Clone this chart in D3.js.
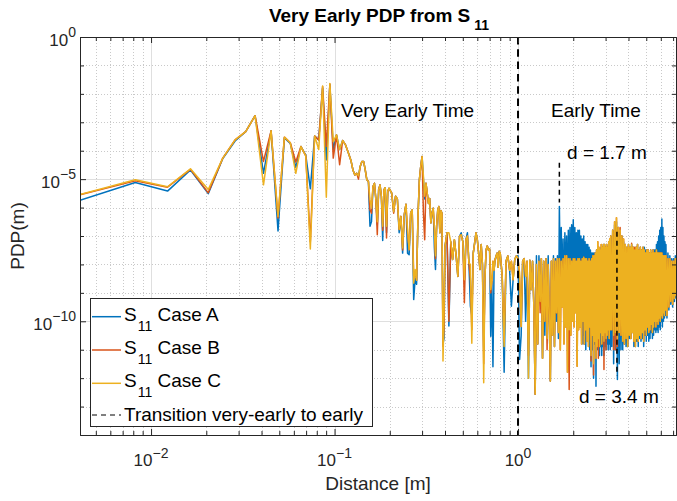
<!DOCTYPE html>
<html>
<head>
<meta charset="utf-8">
<script src="https://cdn.jsdelivr.net/npm/d3@7"></script>
<style>
  body { margin: 0; background: #fff; }
  svg { display: block; font-family: "Liberation Sans", Arial, Helvetica, sans-serif; }
</style>
</head>
<body>
<div class="graph--pdp"></div>
<script>
var distance = [
  0.0041,0.0082,0.0123,0.0164,0.0205,0.0246,0.0287,0.0328,0.0369,0.0410,0.0451,0.0492,0.0533,0.0574,0.0615,0.0656,0.0697,0.0738,0.0779,0.0820,0.0861,0.0902,0.0943,0.0984,0.1025,0.1066,0.1107,0.1148,0.1189,
  0.123,0.126,0.129,0.132,0.135,0.138,0.141,0.144,0.147,0.150,0.153,0.156,0.159,0.162,0.165,0.168,0.171,0.174,0.177,0.180,0.183,0.186,0.189,0.192,0.195,0.198,
  0.200,0.205,0.210,0.215,0.220,0.225,0.230,0.235,0.240,0.245,0.250,0.255,0.260,0.265,0.270,0.275,0.280,0.285,0.290,0.295,0.300,0.305,0.310,0.315,0.320,0.325,0.330,0.335,0.340,0.345,0.350,0.355,0.360,0.365,0.370,0.375,0.380,0.385,0.390,0.395,
  0.40,0.41,0.42,0.43,0.44,0.45,0.46,0.47,0.48,0.49,0.50,0.51,0.52,0.53,0.54,0.55,0.56,0.57,0.58,0.59,0.60,0.61,0.62,0.63,0.64,0.65,0.66,0.67,0.68,0.69,0.70,0.71,0.72,0.73,0.74,0.75,0.76,0.77,0.78,0.79,
  0.80,0.82,0.84,0.86,0.88,0.90,0.92,0.94,0.96,0.98,1.00,1.02,1.04,1.06,1.08,1.10,1.12,1.14,1.16,1.18,1.20,1.22,1.24,1.26,1.28,1.30,1.32,1.34,1.36,1.38,1.40,1.42,1.44,1.46,1.48,1.50,1.52,1.54,1.56,1.58,
  1.60,1.62,1.64,1.66,1.68,1.70,1.72,1.74,1.76,1.78,1.80,1.82,1.84,1.86,1.88,1.90,1.92,1.94,1.96,1.98,
  2.00,2.02,2.04,2.06,2.08,2.10,2.12,2.14,2.16,2.18,2.20,2.22,2.24,2.26,2.28,2.30,2.32,2.34,2.36,2.38,
  2.40,2.42,2.44,2.46,2.48,2.50,2.52,2.54,2.56,2.58,2.60,2.62,2.64,2.66,2.68,2.70,2.72,2.74,2.76,2.78,
  2.80,2.82,2.84,2.86,2.88,2.90,2.92,2.94,2.96,2.98,3.00,3.02,3.04,3.06,3.08,3.10,3.12,3.14,3.16,3.18,
  3.20,3.24,3.28,3.32,3.36,3.40,3.44,3.48,3.52,3.56,3.60,3.64,3.68,3.72,3.76,3.80,3.84,3.88,3.92,3.96,
  4.00,4.04,4.08,4.12,4.16,4.20,4.24,4.28,4.32,4.36,4.40,4.44,4.48,4.52,4.56,4.60,4.64,4.68,4.72,4.76,
  4.80,4.84,4.88,4.92,4.96,5.00,5.04,5.08,5.12,5.16,5.20,5.24,5.28,5.32,5.36,5.40,5.44,5.48,5.52,5.56,
  5.60,5.64,5.68,5.72,5.76,5.80,5.84,5.88,5.92,5.96,6.00,6.04,6.08,6.12,6.16,6.20,6.24,6.28,6.32,6.36,
  6.40,6.48,6.56,6.64,6.72,6.80,6.88,6.96,7.04,7.12,7.20,7.26
];

// PDP (m) for S11 Case A
var caseA = [
  1.8e-6,7.6e-6,3.8e-6,2.1e-5,3.1e-6,5.3e-5,2.2e-4,4.7e-4,1.7e-3,1.6e-5,5e-4,1.5e-7,2.8e-4,1.8e-4,2.6e-5,1.4e-4,7e-5,4.6e-6,3.3e-4,2.4e-4,1.6e-2,4.8e-5,2.1e-2,1.1e-4,3.6e-4,1.1e-4,2.3e-4,1.6e-4,8.5e-5,
  4.4e-5,2.1e-5,1.4e-5,1.6e-5,1.3e-5,2.8e-5,4.2e-5,4.2e-5,2.1e-5,9.5e-6,8.3e-6,2.2e-7,3.2e-7,5.5e-6,7.2e-6,1.9e-6,2.5e-7,4.3e-6,6.3e-6,2.5e-6,7e-8,4.3e-6,5e-6,1.3e-7,3.7e-6,4.8e-6,
  4.3e-6,3.2e-6,7.2e-7,2.5e-6,2e-6,1.3e-7,4.9e-7,2.5e-8,5.6e-7,1.3e-6,2.5e-8,2.2e-8,6.5e-7,8.3e-7,5.8e-10,3.2e-9,2e-9,4.9e-7,9.5e-6,2.8e-5,6.3e-5,1e-5,2e-6,7.2e-6,3.2e-6,1.4e-6,2.1e-6,2.9e-7,6.5e-7,9.5e-7,4e-8,6.6e-9,2.2e-7,7.9e-7,1.1e-6,1.3e-7,7.9e-7,6.3e-7,1.6e-11,2.5e-11,
  4.3e-8,1.3e-7,6.8e-11,6.3e-8,1.5e-8,7.4e-8,2e-8,3.8e-9,9.8e-8,1.3e-7,6.3e-8,2.9e-9,7.4e-8,1.3e-7,1.1e-8,3.4e-10,1.6e-10,2.5e-8,5.6e-8,1.3e-7,7.4e-8,2.5e-8,6.6e-9,5e-8,1e-8,1e-11,3.2e-9,3.3e-8,4.5e-8,3.2e-8,3.5e-8,3e-11,2.5e-9,2.5e-12,6.3e-9,1.5e-8,2e-8,2.5e-8,7.9e-9,2.9e-8,
  2.5e-8,3.8e-9,1.6e-12,1.3e-8,2e-8,6.3e-9,3.4e-10,2.9e-9,1.5e-8,2e-8,2e-8,4.5e-12,3.2e-11,1.3e-8,1.6e-8,1e-10,1.3e-8,1e-12,1.4e-8,1.3e-9,1.3e-8,3.2e-10,2.7e-13,2e-8,1.6e-11,2e-8,5e-10,1.6e-8,5e-12,1.3e-8,3.2e-11,1.6e-8,2.5e-11,2e-8,1.6e-10,7.9e-13,1.3e-8,3.2e-11,2e-8,1.3e-11,
  1.6e-8,1e-10,2e-8,2.5e-11,1.1e-6,3.2e-9,2e-7,1e-9,7.9e-8,6.3e-11,1.3e-7,1e-9,1e-7,1e-10,1.6e-7,3.2e-10,2e-7,1.6e-10,2.5e-7,1e-9,
  3.7e-7,3.2e-10,2e-7,6.3e-10,1.3e-7,1e-11,1.6e-7,3.2e-10,1.6e-7,1e-9,1e-7,1e-10,7.9e-8,1.6e-11,1e-7,3.2e-11,6.3e-8,1e-11,5e-8,6.3e-11,
  5e-8,3.2e-11,4e-8,1e-11,3.2e-8,2.5e-12,2.5e-8,1e-11,2.5e-8,1e-12,2.5e-8,1.6e-11,2.5e-8,5.2e-13,3.2e-8,1e-11,3.2e-8,1e-11,2.5e-8,6.3e-12,
  2.5e-8,1.3e-11,4e-8,6.3e-12,4e-8,1.3e-11,5e-8,6.3e-12,5e-8,1.3e-11,4e-8,1e-11,5e-8,1.6e-11,4e-8,1e-11,5e-8,1.6e-11,6.3e-8,1e-11,
  1e-7,1.3e-11,1.6e-7,3.2e-12,2.5e-7,1e-11,3.2e-7,8.9e-13,2e-7,3.2e-12,1.3e-7,1e-11,1e-7,1e-11,6.3e-8,1.6e-11,5e-8,1.3e-11,4e-8,1.3e-11,
  5e-8,2.5e-11,4e-8,2.5e-11,5e-8,4e-11,4e-8,1.3e-11,3.2e-8,1.3e-11,4e-8,2e-11,5e-8,1.3e-11,3.2e-8,2.5e-11,4e-8,2e-11,3.2e-8,2.5e-11,
  4e-8,1.3e-11,4e-8,3.2e-11,3.2e-8,2e-11,3.2e-8,3.2e-11,3.2e-8,2e-11,2.5e-8,2.5e-11,3.2e-8,4e-11,2.5e-8,2.5e-11,3.2e-8,3.2e-11,3.2e-8,5e-11,
  3.2e-8,4e-11,5e-8,5e-11,6.3e-8,4e-11,1e-7,6.3e-11,1.6e-7,5e-11,2e-7,1e-10,4e-7,6.3e-11,2e-7,1e-10,1e-7,1.3e-10,6.3e-8,1.6e-10,
  5e-8,1.3e-10,2.5e-8,2.5e-10,2e-8,4e-10,1.6e-8,3.2e-10,1.6e-8,5e-10,2e-8,6.3e-10
];

// PDP (m) for S11 Case B
var caseB = [
  2.8e-6,8.7e-6,5.2e-6,2.2e-5,3.3e-6,5.5e-5,2.4e-4,4.7e-4,1.7e-3,4.2e-5,5e-4,4.3e-7,3e-4,1.9e-4,4e-5,1.4e-4,6.6e-5,6.3e-8,3.3e-4,2.4e-4,1.8e-2,1.4e-4,2.2e-2,5.5e-5,3.6e-4,3.2e-5,2.3e-4,1.6e-4,8.5e-5,
  4.4e-5,2.1e-5,1.4e-5,1.6e-5,1e-5,2.8e-5,4.2e-5,4.2e-5,2.1e-5,9.5e-6,8.3e-6,8.3e-7,6.3e-7,5.5e-6,7.2e-6,1.9e-6,1.1e-7,4.3e-6,6.3e-6,2.5e-6,1.6e-7,4.3e-6,5e-6,8.5e-8,3.7e-6,4.8e-6,
  4.3e-6,3.2e-6,6.3e-7,2.5e-6,2e-6,1.7e-7,4.9e-7,3.2e-8,5.6e-7,1.3e-6,1.3e-7,3.3e-8,6.5e-7,8.3e-7,4e-9,5e-9,2.8e-9,4.9e-7,9.5e-6,2.8e-5,6.3e-5,6.5e-7,7.4e-8,7.2e-6,3.2e-6,1.4e-6,2.1e-6,2.9e-7,6.5e-7,9.5e-7,1.9e-7,1.6e-8,2.2e-7,7.9e-7,1.1e-6,1.3e-7,7.9e-7,6.3e-7,1.3e-11,6.3e-11,
  4.3e-8,1.3e-7,1e-10,6.3e-8,1.5e-8,7.4e-8,2e-8,3.8e-9,9.8e-8,1.1e-7,6.3e-8,4.5e-10,7.4e-8,1e-7,1.1e-8,3.2e-9,5e-11,2.5e-8,5.6e-8,1.3e-7,7.4e-8,2.5e-8,6.6e-9,5e-8,1e-8,3.2e-12,3.2e-9,3.3e-8,4.5e-8,3.2e-8,3.5e-8,1e-9,2.5e-9,1.3e-8,6.3e-9,1.5e-8,2e-8,2.5e-8,7.9e-9,2.9e-8,
  2.5e-8,3.8e-9,2e-11,1.3e-8,2e-8,6.3e-9,1.3e-8,2.9e-9,1.5e-8,2e-8,1.6e-8,3.2e-9,6.6e-11,1.3e-8,1.6e-8,3.8e-9,1.3e-8,6.3e-12,1.4e-8,1.3e-9,1.3e-8,3.2e-10,2.7e-13,1e-8,1.6e-11,1.3e-8,2e-10,1.6e-8,5e-12,1.3e-8,1e-10,1.6e-8,1e-11,1e-8,1.6e-10,7.9e-13,1.3e-8,3.2e-11,1.6e-8,1.3e-11,
  1.3e-8,2e-10,1.6e-8,4e-11,1.6e-8,1e-11,1.3e-8,3.2e-10,1.6e-8,1.6e-11,2e-8,6.3e-11,2e-8,1.6e-12,1.6e-8,4e-13,1.6e-8,3.2e-11,1.3e-8,1e-10,
  1.6e-8,6.3e-11,1.6e-8,2e-10,1.3e-8,2.6e-12,1.6e-8,5e-11,1.6e-8,6.3e-11,1.3e-8,1.6e-11,1.6e-8,1e-10,1.8e-8,1.6e-11,1.6e-8,5e-11,1.6e-8,2e-11,
  1.3e-8,1.3e-11,1.6e-8,6.3e-11,1.3e-8,4e-12,1.6e-8,3.2e-11,2e-8,1.3e-12,2e-8,2e-11,2.5e-8,5e-12,3.2e-8,1.3e-11,6.3e-8,5e-12,4e-8,1.3e-11,
  3.2e-8,4e-11,5e-8,1.6e-11,4e-8,3.2e-11,5e-8,2e-12,5e-8,4e-11,4e-8,1e-11,5e-8,3.2e-11,4e-8,5e-11,6.3e-8,2.5e-11,7.9e-8,5e-11,
  1e-7,5e-11,1.6e-7,1e-11,3.2e-7,1e-11,4.4e-7,1.3e-11,2e-7,4e-11,2e-7,3.2e-11,1e-7,2e-11,7.9e-8,1.6e-11,5e-8,2.5e-11,4e-8,1.3e-11,
  5e-8,3.2e-11,4e-8,2.5e-11,5.6e-8,4e-11,4e-8,2e-11,4e-8,1.3e-11,4e-8,2.5e-11,5e-8,2e-11,3.2e-8,3.2e-11,4e-8,2.5e-11,3.2e-8,4e-11,
  4e-8,2e-11,3.2e-8,5e-11,2.5e-8,3.2e-11,3.2e-8,6.3e-11,3.2e-8,4e-11,2.5e-8,5e-11,3.2e-8,7.9e-11,2.5e-8,4e-11,3.2e-8,6.3e-11,2.5e-8,1e-10,
  2.5e-8,6.3e-11,3.2e-8,1e-10,2.5e-8,7.9e-11,2.5e-8,1.3e-10,2.5e-8,1e-10,2.5e-8,1.6e-10,2.5e-8,1.3e-10,2e-8,2e-10,2e-8,1.6e-10,2e-8,2.5e-10,
  2e-8,1.6e-10,1.6e-8,3.2e-10,1.6e-8,5e-10,1.3e-8,4e-10,1.3e-8,6.3e-10,1.6e-8,7.9e-10
];

// PDP (m) for S11 Case C
var caseC = [
  2.9e-6,9.5e-6,5.4e-6,2.3e-5,4.3e-6,5.5e-5,2.4e-4,4.7e-4,1.7e-3,6.3e-6,5e-4,4.9e-7,3e-4,1.9e-4,1.6e-5,1.4e-4,6.6e-5,3.5e-8,3.3e-4,1.1e-4,1.9e-2,2.3e-6,2.3e-2,2.1e-4,3.6e-4,1.1e-4,2.3e-4,1.6e-4,8.5e-5,
  4.4e-5,2.1e-5,1.4e-5,1.6e-5,1.3e-5,2.8e-5,4.2e-5,4.2e-5,2.1e-5,9.5e-6,8.3e-6,1.9e-6,9.5e-7,5.5e-6,7.2e-6,1.9e-6,3.2e-7,4.3e-6,6.3e-6,2.5e-6,2.2e-7,4.3e-6,5e-6,2.2e-7,3.7e-6,4.8e-6,
  4.3e-6,3.2e-6,7.2e-7,2.5e-6,2e-6,1.7e-7,4.9e-7,3.8e-8,5.6e-7,1.3e-6,1.7e-7,3.3e-8,6.5e-7,8.3e-7,2.2e-9,6.6e-9,2.8e-9,4.9e-7,9.5e-6,2.8e-5,6.3e-5,1.3e-5,2.5e-6,7.2e-6,3.2e-6,1.4e-6,2.1e-6,2.9e-7,6.5e-7,9.5e-7,1.9e-7,2e-8,2.2e-7,7.9e-7,1.1e-6,1.3e-7,7.9e-7,6.3e-7,4e-12,2e-10,
  4.3e-8,1.3e-7,1.3e-7,6.3e-8,1.5e-8,7.4e-8,2e-8,3.8e-9,9.8e-8,1.1e-7,6.3e-8,2.9e-9,7.4e-8,1e-7,1.1e-8,1e-8,1.7e-11,2.5e-8,5.6e-8,1.3e-7,7.4e-8,2.5e-8,6.6e-9,5e-8,1e-8,6.9e-13,3.2e-9,3.3e-8,4.5e-8,3.2e-8,3.5e-8,1.3e-9,2.5e-9,1.3e-8,6.3e-9,1.5e-8,2e-8,2.5e-8,7.9e-9,2.9e-8,
  2.5e-8,3.8e-9,1.3e-11,1.3e-8,2e-8,6.3e-9,1.3e-8,2.9e-9,1.5e-8,2e-8,1.6e-8,5e-9,6.6e-11,1.3e-8,1.6e-8,3.8e-9,1.3e-8,1e-12,1.4e-8,1.3e-9,1.3e-8,3.2e-10,2.7e-13,1e-8,1.6e-11,1.3e-8,5e-10,1.6e-8,5e-12,1.3e-8,1e-10,1.6e-8,2.5e-11,1e-8,1.6e-10,7.9e-13,1.3e-8,3.2e-11,1.6e-8,1.3e-11,
  1.3e-8,2e-10,1.6e-8,4e-11,1.6e-8,1e-11,1.3e-8,3.2e-10,1.6e-8,1.6e-11,2e-8,6.3e-11,2e-8,1.6e-12,1.6e-8,5e-11,1.6e-8,3.2e-11,1.3e-8,1e-10,
  1.6e-8,6.3e-11,1.6e-8,2e-10,1.3e-8,2.6e-12,1.6e-8,5e-11,1.6e-8,6.3e-11,1.3e-8,1.6e-11,1.6e-8,1e-10,1.8e-8,1.6e-11,1.6e-8,5e-11,1.6e-8,2e-11,
  1.3e-8,1.3e-11,1.6e-8,6.3e-11,1.3e-8,6.3e-12,1.6e-8,3.2e-11,2e-8,3.2e-12,2e-8,2e-11,2.5e-8,5e-12,3.2e-8,1.3e-11,6.3e-8,2.5e-11,4e-8,1.3e-11,
  3.2e-8,4e-11,5e-8,1.6e-11,4e-8,3.2e-11,5e-8,2e-11,5e-8,4e-11,4e-8,2.5e-11,5e-8,3.2e-11,4e-8,5e-11,6.3e-8,2.5e-11,7.9e-8,5e-11,
  1e-7,5e-11,1.6e-7,3.2e-11,3.2e-7,4e-11,4.4e-7,2.5e-11,2e-7,4e-11,1.6e-7,3.2e-11,1e-7,2e-11,7.9e-8,1.6e-11,5e-8,2.5e-11,4e-8,1.3e-11,
  5e-8,3.2e-11,4e-8,2.5e-11,5e-8,4e-11,4e-8,2e-11,3.2e-8,1.3e-11,4e-8,2.5e-11,5e-8,2e-11,3.2e-8,3.2e-11,4e-8,2.5e-11,3.2e-8,4e-11,
  4e-8,2e-11,3.2e-8,5e-11,2.5e-8,3.2e-11,3.2e-8,6.3e-11,3.2e-8,4e-11,2.5e-8,5e-11,3.2e-8,7.9e-11,2.5e-8,4e-11,3.2e-8,6.3e-11,2.5e-8,1e-10,
  2.5e-8,6.3e-11,3.2e-8,1e-10,2.5e-8,7.9e-11,2.5e-8,1.3e-10,2.5e-8,1e-10,2.5e-8,1.6e-10,2.5e-8,1.3e-10,2e-8,2e-10,2e-8,1.6e-10,2e-8,2.5e-10,
  2e-8,1.6e-10,1.6e-8,3.2e-10,1.6e-8,5e-10,1.3e-8,4e-10,1.3e-8,6.3e-10,1.6e-8,7.9e-10
];

// Axis ticks and their exponent labels
var xMajorTicks = [0.01, 0.1, 1];
var xTickExponents = ["\u22122", "\u22121", "0"];
var yMajorTicks = [1, 1e-5, 1e-10];
var yTickExponents = ["0", "\u22125", "\u221210"];
var yDomain = [1e-14, 1];

// Annotations (data coordinates)
var transitionDistance = 1.0;
var markerLines = [
  { d: 1.68, top: 3.8e-5, bottom: 1.5e-6 },
  { d: 3.46, top: 1.4e-7, bottom: 1.2e-12 }
];
var annotations = [
  { text: "Very Early Time", d: 0.1085, pdp: 1.56e-3 },
  { text: "Early Time", d: 1.513, pdp: 1.56e-3 },
  { text: "d = 1.7 m", d: 1.85, pdp: 5.2e-5 },
  { text: "d = 3.4 m", d: 2.15, pdp: 1.3e-13 }
];
var seriesNames = ["Case A", "Case B", "Case C"];
var seriesColors = ["#0072BD", "#D95319", "#EDB120"];
var transitionLabel = "Transition very-early to early";

var width = 677, height = 501;
var margin = { top: 37, left: 80, right: 1, bottom: 65 };
var plotW = width - margin.left - margin.right;
var plotH = height - margin.top - margin.bottom - 1;
var axisColor = "#262626";

var svg = d3.select(".graph--pdp").append("svg")
    .attr("width", width)
    .attr("height", height);

var xScale = d3.scaleLog()
    .domain([distance[0], distance[distance.length - 1]])
    .range([0, plotW]);
var yScale = d3.scaleLog()
    .domain(yDomain)
    .range([plotH, 0]);

var g = svg.append("g")
    .attr("transform", "translate(" + margin.left + "," + margin.top + ")");

// Grid: minor dotted, major solid
function notMajor(majors) {
  return function(v) {
    return majors.every(function(m) { return Math.abs(Math.log10(v) - Math.log10(m)) > 1e-6; });
  };
}
var xMinorTicks = xScale.ticks().filter(notMajor(xMajorTicks));
var yMinorTicks = d3.range(-13, 0).map(function(e) { return Math.pow(10, e); }).filter(notMajor(yMajorTicks));

function px(v) { return Math.round(v) + 0.5; }

var grid = g.append("g").attr("class", "grid");
grid.selectAll(".x-minor").data(xMinorTicks).join("line")
    .attr("x1", function(d) { return px(xScale(d)); })
    .attr("x2", function(d) { return px(xScale(d)); })
    .attr("y1", 0).attr("y2", plotH)
    .attr("stroke", "#c9c9c9").attr("stroke-dasharray", "1,2");
grid.selectAll(".y-minor").data(yMinorTicks).join("line")
    .attr("y1", function(d) { return px(yScale(d)); })
    .attr("y2", function(d) { return px(yScale(d)); })
    .attr("x1", 0).attr("x2", plotW)
    .attr("stroke", "#c9c9c9").attr("stroke-dasharray", "1,2");
grid.selectAll(".x-major").data(xMajorTicks).join("line")
    .attr("x1", function(d) { return px(xScale(d)); })
    .attr("x2", function(d) { return px(xScale(d)); })
    .attr("y1", 0).attr("y2", plotH)
    .attr("stroke", "#dfdfdf");
grid.selectAll(".y-major").data(yMajorTicks).join("line")
    .attr("y1", function(d) { return px(yScale(d)); })
    .attr("y2", function(d) { return px(yScale(d)); })
    .attr("x1", 0).attr("x2", plotW)
    .attr("stroke", "#dfdfdf");

// Data lines
svg.append("defs").append("clipPath").attr("id", "plot-clip")
  .append("rect").attr("width", plotW).attr("height", plotH);

var seriesValues = [caseA, caseB, caseC];
var series = seriesNames.map(function(name, i) {
  return { name: name, color: seriesColors[i], values: seriesValues[i] };
});

var line = d3.line()
    .x(function(p) { return xScale(p.d); })
    .y(function(p) { return yScale(p.v); });

var lineGroup = g.append("g").attr("clip-path", "url(#plot-clip)");
series.forEach(function(s) {
  var n = Math.min(distance.length, s.values.length);
  var pts = d3.range(n).map(function(i) { return { d: distance[i], v: s.values[i] }; });
  lineGroup.append("path")
      .datum(pts)
      .attr("d", line)
      .attr("fill", "none")
      .attr("stroke", s.color)
      .attr("stroke-width", 1.5)
      .attr("stroke-linejoin", "round");
});

// Transition line
g.append("line")
    .attr("x1", xScale(transitionDistance)).attr("x2", xScale(transitionDistance))
    .attr("y1", 0).attr("y2", plotH)
    .attr("stroke", "#000").attr("stroke-width", 2)
    .attr("stroke-dasharray", "7.5,4.8");

// Marker lines for the reflections
g.selectAll(".marker").data(markerLines).join("line")
    .attr("x1", function(m) { return xScale(m.d); })
    .attr("x2", function(m) { return xScale(m.d); })
    .attr("y1", function(m) { return yScale(m.top); })
    .attr("y2", function(m) { return yScale(m.bottom); })
    .attr("stroke", "#000").attr("stroke-width", 1.5)
    .attr("stroke-dasharray", "5,4");

// Text annotations
g.selectAll(".annot").data(annotations).join("text")
    .attr("x", function(a) { return xScale(a.d); })
    .attr("y", function(a) { return yScale(a.pdp); })
    .attr("font-size", 19)
    .attr("fill", "#000")
    .text(function(a) { return a.text; });

// Axes (box with inward ticks)
function styleAxis(sel) {
  sel.select(".domain").attr("stroke", axisColor);
  sel.selectAll(".tick line").attr("stroke", axisColor);
  sel.selectAll(".tick text").remove();
}
var axes = [
  { axis: d3.axisBottom(xScale), tr: "translate(0," + plotH + ")", major: xMajorTicks, minor: xMinorTicks },
  { axis: d3.axisTop(xScale), tr: "translate(0,0)", major: xMajorTicks, minor: xMinorTicks },
  { axis: d3.axisLeft(yScale), tr: "translate(0,0)", major: yMajorTicks, minor: yMinorTicks },
  { axis: d3.axisRight(yScale), tr: "translate(" + plotW + ",0)", major: yMajorTicks, minor: yMinorTicks }
];
axes.forEach(function(a) {
  g.append("g").attr("transform", a.tr)
    .call(a.axis.tickValues(a.minor).tickSizeInner(-4).tickSizeOuter(0).tickFormat(""))
    .call(styleAxis);
  g.append("g").attr("transform", a.tr)
    .call(a.axis.tickValues(a.major).tickSizeInner(-6).tickSizeOuter(0).tickFormat(""))
    .call(styleAxis);
});

// Tick labels with superscript exponents
xMajorTicks.forEach(function(v, i) {
  var t = g.append("text")
      .attr("x", xScale(v)).attr("y", plotH + 31)
      .attr("text-anchor", "middle").attr("font-size", 17).attr("fill", axisColor);
  t.append("tspan").text("10");
  t.append("tspan").attr("dy", -8).attr("font-size", 14).text(xTickExponents[i]);
});
yMajorTicks.forEach(function(v, i) {
  var t = g.append("text")
      .attr("x", -4).attr("y", yScale(v) + 9)
      .attr("text-anchor", "end").attr("font-size", 17).attr("fill", axisColor);
  t.append("tspan").text("10");
  t.append("tspan").attr("dy", -9).attr("font-size", 14).text(yTickExponents[i]);
});

// Axis labels
svg.append("text")
    .attr("x", margin.left + plotW / 2).attr("y", 490)
    .attr("text-anchor", "middle").attr("font-size", 19).attr("fill", axisColor)
    .text("Distance [m]");
svg.append("text")
    .attr("transform", "translate(24," + (margin.top + plotH / 2) + ") rotate(-90)")
    .attr("text-anchor", "middle").attr("font-size", 19).attr("fill", axisColor)
    .text("PDP(m)");

// Title
var title = svg.append("text")
    .attr("x", 379).attr("y", 22)
    .attr("text-anchor", "middle").attr("font-size", 19).attr("font-weight", "bold").attr("fill", "#000");
title.append("tspan").text("Very Early PDP from S");
title.append("tspan").attr("dx", 4).attr("dy", 8).attr("font-size", 14).text("11");

// Legend
var legend = svg.append("g").attr("transform", "translate(90,298)");
legend.append("rect")
    .attr("x", 0.5).attr("y", 0.5).attr("width", 282).attr("height", 128)
    .attr("fill", "#fff").attr("stroke", axisColor);
var rowY = [18.7, 52, 85.3, 117];
series.forEach(function(s, i) {
  legend.append("line")
      .attr("x1", 2).attr("x2", 31).attr("y1", rowY[i]).attr("y2", rowY[i])
      .attr("stroke", s.color).attr("stroke-width", 1.5);
  var t = legend.append("text")
      .attr("x", 34).attr("y", rowY[i] + 4)
      .attr("font-size", 19).attr("fill", "#000");
  t.append("tspan").text("S");
  t.append("tspan").attr("dx", 1).attr("dy", 10).attr("font-size", 14).text("11");
  t.append("tspan").attr("dy", -10).text(" " + s.name);
});
legend.append("line")
    .attr("x1", 2).attr("x2", 31).attr("y1", rowY[3]).attr("y2", rowY[3])
    .attr("stroke", "#000").attr("stroke-width", 1)
    .attr("stroke-dasharray", "5,4");
legend.append("text")
    .attr("x", 34).attr("y", rowY[3] + 5.7)
    .attr("font-size", 19).attr("fill", "#000")
    .text(transitionLabel);
</script>
</body>
</html>
